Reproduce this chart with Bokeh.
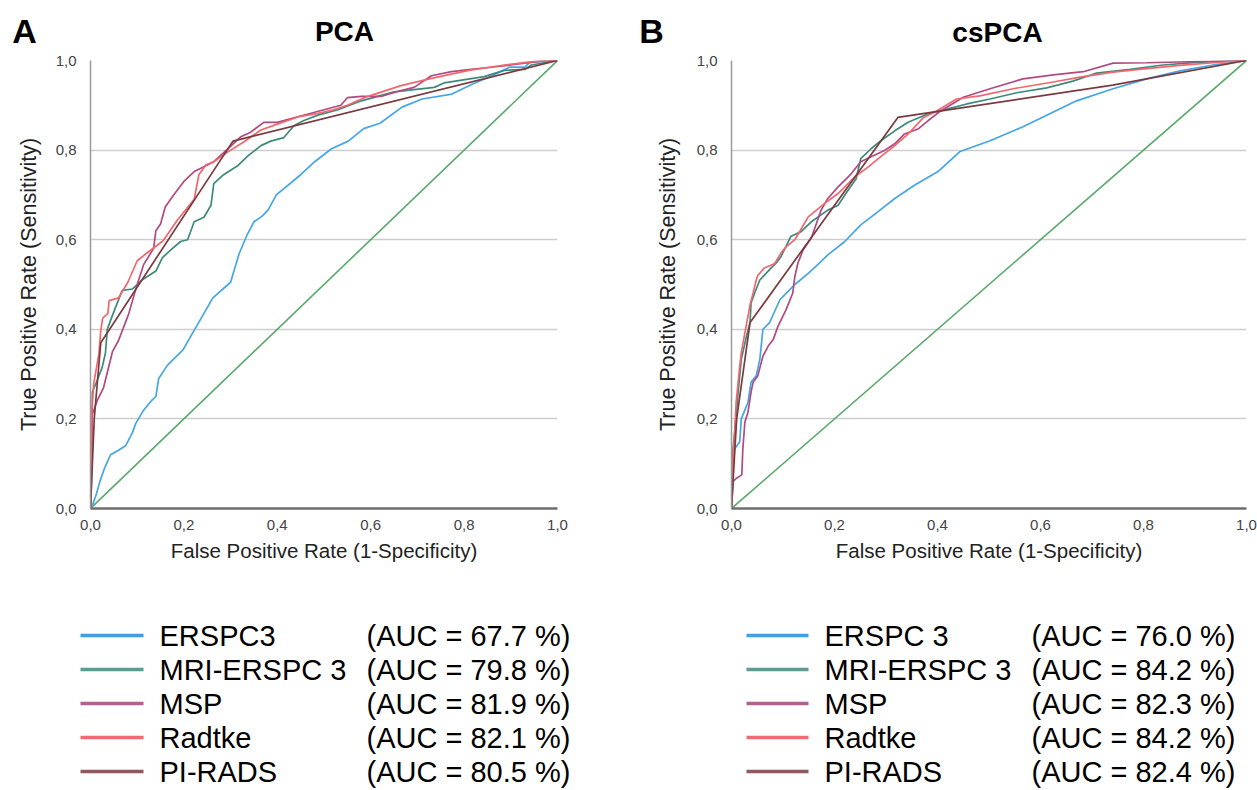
from bokeh.plotting import figure
from bokeh.layouts import column, row
from bokeh.models import Range1d, FixedTicker, ColumnDataSource
from bokeh.embed import file_html
from bokeh.resources import INLINE
from bokeh.core.properties import value

FONT = "Liberation Sans"

# ---------------- data ----------------
tick_values = [0.0, 0.2, 0.4, 0.6, 0.8, 1.0]
tick_labels = ["0,0", "0,2", "0,4", "0,6", "0,8", "1,0"]

panel_letters = ["A", "B"]
panel_titles = ["PCA", "csPCA"]

names_A = ["ERSPC3", "MRI-ERSPC 3", "MSP", "Radtke", "PI-RADS"]
auc_A = ["67.7", "79.8", "81.9", "82.1", "80.5"]
names_B = ["ERSPC 3", "MRI-ERSPC 3", "MSP", "Radtke", "PI-RADS"]
auc_B = ["76.0", "84.2", "82.3", "84.2", "82.4"]

line_colors = ["#45a6e6", "#3d8a7c", "#b04a80", "#f2666e", "#7a3a3e"]
legend_colors = ["#3f9fe2", "#5f9a90", "#b0628e", "#f06c72", "#8a5a5c"]
diag_color = "#58a96b"
diag_x = [0.0, 1.0]
diag_y = [0.0, 1.0]

# Panel A (PCA)
A_erspc_x = [0, 0.004, 0.012, 0.02, 0.03, 0.043, 0.06, 0.075, 0.09, 0.097, 0.114, 0.13, 0.14, 0.146, 0.165,
             0.198, 0.226, 0.262, 0.30, 0.318, 0.335, 0.35, 0.367, 0.38, 0.398, 0.45, 0.48, 0.516, 0.552,
             0.585, 0.62, 0.667, 0.71, 0.774, 0.817, 0.86, 0.897, 0.93, 0.94, 1.0]
A_erspc_y = [0, 0.007, 0.03, 0.06, 0.09, 0.12, 0.13, 0.14, 0.17, 0.19, 0.22, 0.24, 0.25, 0.29, 0.32,
             0.354, 0.405, 0.47, 0.505, 0.568, 0.61, 0.64, 0.652, 0.666, 0.70, 0.745, 0.774, 0.803, 0.82,
             0.848, 0.86, 0.896, 0.914, 0.925, 0.947, 0.966, 0.985, 0.985, 0.996, 1.0]
A_mri_x = [0, 0.002, 0.004, 0.014, 0.025, 0.032, 0.036, 0.043, 0.054, 0.068, 0.09, 0.11, 0.14, 0.154, 0.175,
           0.193, 0.208, 0.222, 0.243, 0.258, 0.264, 0.285, 0.315, 0.337, 0.365, 0.386, 0.414, 0.436, 0.457,
           0.487, 0.53, 0.58, 0.65, 0.736, 0.757, 0.843, 0.886, 0.93, 0.944, 1.0]
A_mri_y = [0, 0.06, 0.26, 0.285, 0.315, 0.347, 0.40, 0.42, 0.45, 0.487, 0.49, 0.51, 0.53, 0.56, 0.58,
           0.596, 0.60, 0.64, 0.65, 0.677, 0.725, 0.745, 0.765, 0.787, 0.81, 0.82, 0.828, 0.855, 0.866,
           0.878, 0.89, 0.91, 0.93, 0.94, 0.95, 0.964, 0.978, 0.98, 0.99, 1.0]
A_msp_x = [0, 0.004, 0.014, 0.028, 0.047, 0.06, 0.082, 0.097, 0.114, 0.135, 0.14, 0.15, 0.16, 0.178, 0.2,
           0.222, 0.243, 0.264, 0.294, 0.322, 0.343, 0.371, 0.4, 0.45, 0.536, 0.55, 0.58, 0.622, 0.665,
           0.693, 0.73, 0.773, 0.815, 0.858, 0.9, 0.96, 1.0]
A_msp_y = [0, 0.21, 0.24, 0.27, 0.35, 0.375, 0.435, 0.49, 0.545, 0.58, 0.62, 0.635, 0.673, 0.70, 0.73,
           0.752, 0.763, 0.774, 0.803, 0.83, 0.84, 0.862, 0.862, 0.876, 0.9, 0.917, 0.92, 0.92, 0.933,
           0.94, 0.966, 0.975, 0.98, 0.985, 0.99, 0.998, 1.0]
A_rad_x = [0, 0.003, 0.007, 0.018, 0.022, 0.026, 0.037, 0.04, 0.06, 0.08, 0.1, 0.118, 0.155, 0.187, 0.222,
           0.232, 0.247, 0.264, 0.294, 0.328, 0.365, 0.4, 0.444, 0.487, 0.52, 0.55, 0.594, 0.665, 0.73,
           0.81, 0.886, 0.95, 1.0]
A_rad_y = [0, 0.22, 0.28, 0.345, 0.397, 0.425, 0.435, 0.464, 0.47, 0.505, 0.553, 0.568, 0.597, 0.645, 0.69,
           0.745, 0.767, 0.774, 0.796, 0.818, 0.845, 0.858, 0.874, 0.882, 0.89, 0.9, 0.92, 0.944, 0.96,
           0.978, 0.99, 0.998, 1.0]
A_pirads_x = [0, 0.008, 0.022, 0.305, 1.0]
A_pirads_y = [0, 0.20, 0.37, 0.82, 1.0]

# Panel B (csPCA)
B_erspc_x = [0, 0.003, 0.006, 0.016, 0.019, 0.032, 0.038, 0.048, 0.055, 0.061, 0.074, 0.094, 0.106, 0.123,
             0.149, 0.168, 0.187, 0.22, 0.251, 0.284, 0.317, 0.356, 0.401, 0.444, 0.502, 0.566, 0.618, 0.67,
             0.741, 0.806, 0.871, 0.935, 1.0]
B_erspc_y = [0, 0.104, 0.133, 0.149, 0.2, 0.237, 0.282, 0.296, 0.333, 0.40, 0.415, 0.466, 0.48, 0.50,
             0.525, 0.545, 0.566, 0.596, 0.633, 0.662, 0.692, 0.722, 0.752, 0.797, 0.821, 0.852, 0.881, 0.91,
             0.937, 0.959, 0.977, 0.99, 1.0]
B_mri_x = [0, 0.003, 0.009, 0.013, 0.019, 0.029, 0.036, 0.038, 0.045, 0.055, 0.077, 0.087, 0.096, 0.115,
           0.135, 0.155, 0.187, 0.207, 0.222, 0.242, 0.251, 0.271, 0.29, 0.317, 0.343, 0.382, 0.42, 0.457,
           0.502, 0.554, 0.612, 0.663, 0.709, 0.774, 0.838, 0.903, 1.0]
B_mri_y = [0, 0.133, 0.207, 0.26, 0.333, 0.384, 0.415, 0.459, 0.481, 0.51, 0.537, 0.548, 0.562, 0.607,
           0.618, 0.64, 0.666, 0.677, 0.703, 0.736, 0.781, 0.803, 0.821, 0.843, 0.862, 0.881, 0.892, 0.903,
           0.914, 0.928, 0.939, 0.954, 0.972, 0.98, 0.99, 0.996, 1.0]
B_msp_x = [0, 0.003, 0.009, 0.02, 0.022, 0.026, 0.032, 0.038, 0.042, 0.051, 0.061, 0.071, 0.081, 0.09,
           0.106, 0.119, 0.123, 0.129, 0.139, 0.155, 0.174, 0.187, 0.207, 0.23, 0.251, 0.271, 0.297, 0.317,
           0.336, 0.362, 0.382, 0.407, 0.45, 0.502, 0.566, 0.625, 0.683, 0.741, 0.806, 1.0]
B_msp_y = [0, 0.06, 0.067, 0.075, 0.133, 0.193, 0.215, 0.26, 0.282, 0.296, 0.34, 0.362, 0.377, 0.406,
           0.444, 0.481, 0.518, 0.548, 0.577, 0.604, 0.666, 0.692, 0.718, 0.744, 0.774, 0.785, 0.799, 0.814,
           0.836, 0.847, 0.866, 0.888, 0.918, 0.937, 0.959, 0.968, 0.975, 0.994, 0.995, 1.0]
B_rad_x = [0, 0.001, 0.003, 0.006, 0.009, 0.016, 0.019, 0.026, 0.032, 0.036, 0.042, 0.048, 0.051, 0.064,
           0.084, 0.096, 0.106, 0.123, 0.149, 0.181, 0.207, 0.239, 0.265, 0.297, 0.317, 0.343, 0.372, 0.395,
           0.437, 0.482, 0.547, 0.625, 0.677, 0.741, 0.806, 0.871, 0.935, 1.0]
B_rad_y = [0, 0.06, 0.118, 0.163, 0.237, 0.318, 0.348, 0.392, 0.429, 0.455, 0.481, 0.51, 0.52, 0.537,
           0.547, 0.57, 0.584, 0.60, 0.651, 0.681, 0.703, 0.74, 0.762, 0.792, 0.81, 0.836, 0.872, 0.885,
           0.914, 0.921, 0.937, 0.952, 0.963, 0.974, 0.982, 0.989, 0.995, 1.0]
B_pirads_x = [0, 0.01, 0.036, 0.323, 0.74, 1.0]
B_pirads_y = [0, 0.2, 0.415, 0.873, 0.945, 1.0]

curves_A = [(A_erspc_x, A_erspc_y), (A_mri_x, A_mri_y), (A_msp_x, A_msp_y),
            (A_rad_x, A_rad_y), (A_pirads_x, A_pirads_y)]
curves_B = [(B_erspc_x, B_erspc_y), (B_mri_x, B_mri_y), (B_msp_x, B_msp_y),
            (B_rad_x, B_rad_y), (B_pirads_x, B_pirads_y)]

# ---------------- layout (page pixels) ----------------
SPLIT = 633          # x where panel B's column starts
TOTAL_W = 1257
HEADER_H = 48
CHART_H = 550
LEGEND_H = 192


def blank(width, height, xr, yr):
    p = figure(width=width, height=height, x_range=Range1d(*xr), y_range=Range1d(*yr),
               x_axis_type=None, y_axis_type=None, output_backend="svg",
               toolbar_location=None, min_border=0)
    p.outline_line_color = None
    p.xgrid.visible = False
    p.ygrid.visible = False
    return p


def make_header(letter, title, x0, width, letter_x, title_x, letter_y, title_y):
    h = blank(width, HEADER_H, (x0, x0 + width), (HEADER_H, 0))
    h.text(x=[letter_x], y=[letter_y], text=[letter], text_font=value(FONT),
           text_font_style="bold", text_font_size="34px", text_align="center",
           text_baseline="middle", text_color="black")
    h.text(x=[title_x], y=[title_y], text=[title], text_font=value(FONT),
           text_font_style="bold", text_font_size="28px", text_align="center",
           text_baseline="middle", text_color="black")
    return h


def make_chart(curves, width, borders, ylab_standoff):
    left, right, top, bottom = borders
    p = figure(width=width, height=CHART_H, x_range=Range1d(0, 1), y_range=Range1d(0, 1),
               output_backend="svg", toolbar_location=None,
               min_border_left=left, min_border_right=right,
               min_border_top=top, min_border_bottom=bottom)
    p.outline_line_color = None
    p.xgrid.grid_line_color = None
    p.ygrid.ticker = FixedTicker(ticks=tick_values)
    p.ygrid.grid_line_color = "#cdcdcd"
    p.ygrid.grid_line_width = 1.5

    overrides = dict(zip(tick_values, tick_labels))
    for ax in (p.xaxis[0], p.yaxis[0]):
        ax.ticker = FixedTicker(ticks=tick_values)
        ax.major_label_overrides = overrides
        ax.major_tick_line_color = None
        ax.minor_tick_line_color = None
        ax.major_label_text_font = FONT
        ax.major_label_text_font_size = "15px"
        ax.major_label_text_color = "#444444"
        ax.axis_label_text_font = FONT
        ax.axis_label_text_font_style = "normal"
        ax.axis_label_text_color = "#222222"
    p.xaxis[0].axis_label = "False Positive Rate (1-Specificity)"
    p.yaxis[0].axis_label = "True Positive Rate (Sensitivity)"
    p.xaxis[0].axis_label_text_font_size = "20.5px"
    p.yaxis[0].axis_label_text_font_size = "21.5px"
    p.xaxis[0].axis_line_color = "#6e6e6e"
    p.xaxis[0].axis_line_width = 2.5
    p.yaxis[0].axis_line_color = "#9a9a9a"
    p.yaxis[0].axis_line_width = 1.5
    p.xaxis[0].major_label_standoff = 5
    p.xaxis[0].axis_label_standoff = 6
    p.yaxis[0].major_label_standoff = 8
    p.yaxis[0].axis_label_standoff = ylab_standoff

    p.line(diag_x, diag_y, line_color=diag_color, line_width=1.6)
    for (xs, ys), c in zip(curves, line_colors):
        p.line(xs, ys, line_color=c, line_width=1.7)
    return p


def make_legend(names, aucs, x0, width, line_x, name_x, auc_x, row_y0, row_dy):
    y0 = HEADER_H + CHART_H
    lp = blank(width, LEGEND_H, (x0, x0 + width), (y0 + LEGEND_H, y0))
    ys = [row_y0 + i * row_dy for i in range(len(names))]
    src = ColumnDataSource(dict(
        y=ys, name=names, auc=["(AUC = %s %%)" % a for a in aucs], color=legend_colors,
    ))
    lp.segment(x0=line_x[0], x1=line_x[1], y0="y", y1="y", line_color="color",
               line_width=3.5, source=src)
    lp.text(x=name_x, y="y", text="name", source=src, text_font=value(FONT),
            text_font_size="29px", text_baseline="middle", text_color="black")
    lp.text(x=auc_x, y="y", text="auc", source=src, text_font=value(FONT),
            text_font_size="29px", text_baseline="middle", text_color="black")
    return lp


W_A = SPLIT
W_B = TOTAL_W - SPLIT

hA = make_header(panel_letters[0], panel_titles[0], 0, W_A, 24, 344, 30, 31)
hB = make_header(panel_letters[1], panel_titles[1], SPLIT, W_B, 651, 997, 30, 32)

pA = make_chart(curves_A, W_A, (90, 76, 8, 90), 12)
pB = make_chart(curves_B, W_B, (98, 11, 12, 88), 14)

lA = make_legend(names_A, auc_A, 0, W_A, (80, 143), 159, 366, 635, 34)
lB = make_legend(names_B, auc_B, SPLIT, W_B, (746, 808), 824, 1031, 635, 34)

layout = column(row(hA, hB), row(pA, pB), row(lA, lB))

open("out.html", "w").write(file_html(layout, INLINE))
